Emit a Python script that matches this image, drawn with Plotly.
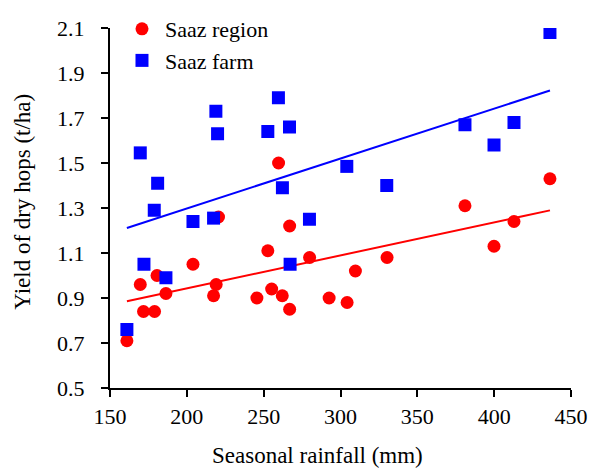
import numpy as np
import plotly.graph_objects as go

# Saaz region (red circles)
region_rain = [161.0, 169.7, 171.8, 179.0, 180.6, 186.4, 204.0, 217.4, 219.1, 220.6,
               245.6, 252.7, 255.2, 259.7, 262.1, 266.9, 266.9, 279.9, 292.6, 304.3,
               309.7, 330.3, 381.0, 399.9, 412.9, 436.3]
region_yield = [0.71, 0.96, 0.84, 0.84, 1.00, 0.92, 1.05, 0.91, 0.96, 1.26,
                0.90, 1.11, 0.94, 1.50, 0.91, 1.22, 0.85, 1.08, 0.90, 0.88,
                1.02, 1.08, 1.31, 1.13, 1.24, 1.43]

# Saaz farm (blue squares)
farm_rain = [161.0, 169.7, 172.1, 178.8, 181.0, 186.4, 204.0, 217.4, 218.9, 220.0,
             252.7, 259.6, 262.2, 266.8, 267.2, 279.8, 304.1, 330.1, 381.0, 399.9,
             412.9, 436.3]
farm_yield = [0.76, 1.545, 1.05, 1.29, 1.41, 0.99, 1.24, 1.255, 1.73, 1.63,
              1.64, 1.79, 1.39, 1.66, 1.05, 1.25, 1.485, 1.40, 1.67, 1.58,
              1.68, 2.08]

x_ticks = [150, 200, 250, 300, 350, 400, 450]
y_ticks = [0.5, 0.7, 0.9, 1.1, 1.3, 1.5, 1.7, 1.9, 2.1]

RED = "#ff0000"
BLUE = "#0000ff"
FONT = "Liberation Serif"


def fit_line(x, y):
    x = np.asarray(x)
    k, b = np.polyfit(x, np.asarray(y), 1)
    xs = np.array([x.min(), x.max()])
    return xs, k * xs + b


fig = go.Figure()
fig.add_trace(go.Scatter(x=region_rain, y=region_yield, mode="markers", name="Saaz region",
                         legendgroup="a",
                         marker=dict(symbol="circle", size=13, color=RED)))
rx, ry = fit_line(region_rain, region_yield)
fig.add_trace(go.Scatter(x=rx, y=ry, mode="lines", showlegend=False,
                         line=dict(color=RED, width=2)))
fig.add_trace(go.Scatter(x=farm_rain, y=farm_yield, mode="markers", name="Saaz farm",
                         legendgroup="b",
                         marker=dict(symbol="square", size=13, color=BLUE)))
fx, fy = fit_line(farm_rain, farm_yield)
fig.add_trace(go.Scatter(x=fx, y=fy, mode="lines", showlegend=False,
                         line=dict(color=BLUE, width=2)))

axis_common = dict(showgrid=False, zeroline=False, showline=True, linecolor="black",
                   linewidth=2, ticks="outside", ticklen=7, tickwidth=2, tickcolor="black",
                   tickfont=dict(family=FONT, size=22, color="black"))

fig.update_xaxes(range=[150, 450], tickvals=x_ticks, ticktext=[str(v) for v in x_ticks],
                 ticklabelstandoff=1, automargin=False, **axis_common)
fig.update_yaxes(range=[0.5, 2.1], tickvals=y_ticks, ticktext=[f"{v:.1f}" for v in y_ticks],
                 ticklabelstandoff=12, automargin=False, **axis_common)

title_font = dict(family=FONT, size=23, color="black")
fig.add_annotation(text="Seasonal rainfall (mm)", xref="paper", yref="paper",
                   x=0.451, y=0, yshift=-67, xanchor="center", yanchor="middle",
                   showarrow=False, font=title_font)
fig.add_annotation(text="Yield of dry hops (t/ha)", xref="paper", yref="paper",
                   x=0, y=0.5175, xshift=-87, xanchor="center", yanchor="middle",
                   textangle=-90, showarrow=False, font=title_font)

fig.update_layout(
    width=588, height=461,
    margin=dict(l=102, r=25, t=20, b=81, autoexpand=False),
    paper_bgcolor="white", plot_bgcolor="white",
    showlegend=True,
    legend=dict(x=0.0195, y=1.0556, xanchor="left", yanchor="top",
                font=dict(family=FONT, size=22, color="black"),
                traceorder="grouped", tracegroupgap=0, itemwidth=36,
                bgcolor="rgba(0,0,0,0)"),
    font=dict(family=FONT, color="black"),
)

fig.write_html("out.html")
